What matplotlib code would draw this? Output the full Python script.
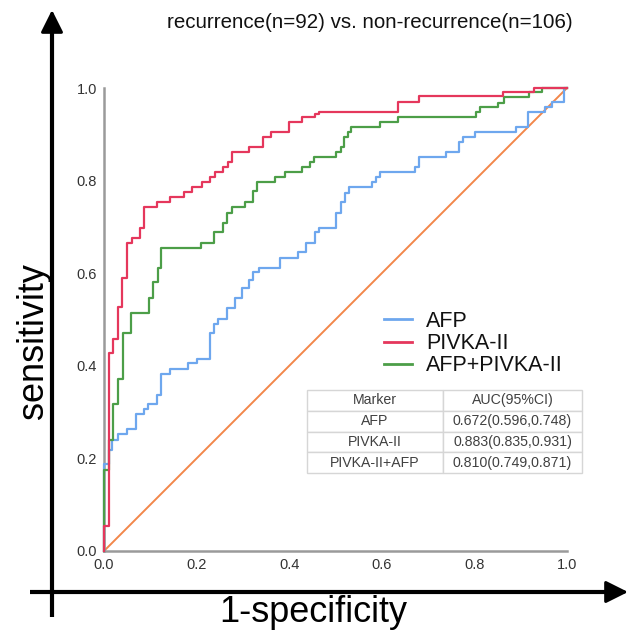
import matplotlib
matplotlib.use("Agg")
import matplotlib.pyplot as plt
from matplotlib.lines import Line2D

plt.rcParams['font.family'] = ['Liberation Sans', 'DejaVu Sans']

# ROC step points (1-specificity, sensitivity)
afp_fpr = [0, 0, 0.011, 0.017, 0.031, 0.049, 0.069, 0.086, 0.096, 0.115, 0.123, 0.143,
           0.181, 0.2, 0.229, 0.238, 0.247, 0.265, 0.284, 0.297, 0.314, 0.322, 0.335,
           0.38, 0.418, 0.436, 0.456, 0.465, 0.502, 0.511, 0.521, 0.53, 0.578, 0.587,
           0.596, 0.672, 0.681, 0.72, 0.739, 0.767, 0.776, 0.801, 0.89, 0.916, 0.952,
           0.967, 0.993, 1.0]
afp_tpr = [0, 0.188, 0.218, 0.24, 0.252, 0.263, 0.295, 0.307, 0.318, 0.338, 0.382, 0.393,
           0.405, 0.415, 0.47, 0.49, 0.501, 0.524, 0.546, 0.567, 0.585, 0.603, 0.611,
           0.632, 0.645, 0.666, 0.688, 0.698, 0.729, 0.754, 0.774, 0.786, 0.798, 0.807,
           0.818, 0.829, 0.85, 0.85, 0.862, 0.884, 0.895, 0.906, 0.916, 0.949, 0.958,
           0.97, 1.0, 1.0]

pivka_fpr = [0, 0, 0.011, 0.02, 0.031, 0.039, 0.049, 0.06, 0.078, 0.087, 0.115, 0.143,
             0.173, 0.19, 0.211, 0.229, 0.24, 0.258, 0.267, 0.276, 0.314, 0.343, 0.361,
             0.399, 0.427, 0.456, 0.465, 0.634, 0.681, 0.861, 0.929, 1.0]
pivka_tpr = [0, 0.055, 0.428, 0.458, 0.527, 0.589, 0.666, 0.677, 0.698, 0.744, 0.753, 0.764,
             0.775, 0.786, 0.796, 0.807, 0.818, 0.829, 0.84, 0.861, 0.872, 0.895, 0.906,
             0.927, 0.938, 0.944, 0.949, 0.97, 0.983, 0.992, 1.0, 1.0]

combo_fpr = [0, 0, 0.011, 0.02, 0.031, 0.04, 0.058, 0.097, 0.105, 0.116, 0.124, 0.21,
             0.238, 0.258, 0.266, 0.276, 0.305, 0.322, 0.331, 0.369, 0.391, 0.427, 0.446,
             0.454, 0.502, 0.511, 0.519, 0.526, 0.533, 0.596, 0.636, 0.803, 0.812, 0.852,
             0.863, 0.918, 0.947, 1.0]
combo_tpr = [0, 0.175, 0.24, 0.317, 0.371, 0.47, 0.513, 0.546, 0.58, 0.611, 0.655, 0.666,
             0.688, 0.709, 0.731, 0.742, 0.753, 0.777, 0.798, 0.808, 0.819, 0.829, 0.841,
             0.85, 0.862, 0.873, 0.895, 0.904, 0.915, 0.927, 0.938, 0.948, 0.958, 0.968,
             0.981, 0.991, 1.0, 1.0]

legend_labels = ['AFP', 'PIVKA-II', 'AFP+PIVKA-II']
table_header = ['Marker', 'AUC(95%CI)']
table_markers = ['AFP', 'PIVKA-II', 'PIVKA-II+AFP']
table_auc = ['0.672(0.596,0.748)', '0.883(0.835,0.931)', '0.810(0.749,0.871)']
ticks = [0.0, 0.2, 0.4, 0.6, 0.8, 1.0]

c_blue = '#6ea7ee'
c_red = '#e5375c'
c_green = '#4c9e48'
c_orange = '#f2874a'

W, H = 629, 631
fig = plt.figure(figsize=(W / 100, H / 100), dpi=100, facecolor='white')

# inner ROC axes
ax = fig.add_axes([104 / W, (H - 551) / H, 463 / W, 463 / H])
ax.set_xlim(0, 1)
ax.set_ylim(0, 1)

ax.plot([0, 1], [0, 1], color=c_orange, lw=1.4, clip_on=False, zorder=2)
ax.plot(afp_fpr, afp_tpr, drawstyle='steps-post', color=c_blue, lw=1.6, clip_on=False, zorder=3)
ax.plot(combo_fpr, combo_tpr, drawstyle='steps-post', color=c_green, lw=1.6, clip_on=False, zorder=4)
ax.plot(pivka_fpr, pivka_tpr, drawstyle='steps-post', color=c_red, lw=1.6, clip_on=False, zorder=5)

for side in ['top', 'right']:
    ax.spines[side].set_visible(False)
for side in ['left', 'bottom']:
    ax.spines[side].set_color('#9a9a9a')
    ax.spines[side].set_linewidth(1.8)
ax.set_xticks(ticks)
ax.set_yticks(ticks)
ax.set_xticklabels([f'{t:.1f}' for t in ticks])
ax.set_yticklabels([f'{t:.1f}' for t in ticks])
ax.tick_params(length=0, labelsize=10.5, labelcolor='#333333', pad=5)

# legend
handles = [Line2D([], [], color=c, lw=2) for c in (c_blue, c_red, c_green)]
leg = fig.legend(handles, legend_labels, loc='upper left',
                 bbox_to_anchor=(384 / W, 1 - 311 / H), frameon=False,
                 fontsize=15.5, handlelength=1.3, handletextpad=0.65,
                 labelspacing=0.05, borderpad=0, borderaxespad=0)
for t in leg.get_texts():
    t.set_color('#111111')

# AUC table
cells = [[m, a] for m, a in zip(table_markers, table_auc)]
tab = ax.table(cellText=cells, colLabels=table_header, cellLoc='center',
               colWidths=[0.4945, 0.5055],
               bbox=[(307 - 104) / 463, (551 - 473) / 463, 275 / 463, 83 / 463])
tab.auto_set_font_size(False)
tab.set_fontsize(10.2)
for cell in tab.get_celld().values():
    cell.set_edgecolor('#d6d6d6')
    cell.set_linewidth(1)
    cell.get_text().set_color('#404040')
    cell.set_clip_on(False)

# overlay for big arrows and titles (pixel coordinates)
ov = fig.add_axes([0, 0, 1, 1], facecolor='none')
ov.set_xlim(0, W)
ov.set_ylim(H, 0)
ov.axis('off')
ov.plot([52, 52], [617, 30], color='black', lw=3, solid_capstyle='butt')
ov.plot([30, 610], [592, 592], color='black', lw=3, solid_capstyle='butt')
ov.annotate('', xy=(52, 10), xytext=(52, 40),
            arrowprops=dict(arrowstyle='-|>', color='black', lw=2.2,
                            mutation_scale=34, shrinkA=0, shrinkB=0))
ov.annotate('', xy=(628, 592), xytext=(598, 592),
            arrowprops=dict(arrowstyle='-|>', color='black', lw=2.2,
                            mutation_scale=34, shrinkA=0, shrinkB=0))

ov.text(370, 22, 'recurrence(n=92) vs. non-recurrence(n=106)', ha='center', va='center',
        fontsize=14.8, color='#111111')
ov.text(33, 341, 'sensitivity', rotation=90, ha='center', va='center', fontsize=26)
ov.text(313, 612, '1-specificity', ha='center', va='center', fontsize=26)

fig.savefig('out.png', dpi=100, facecolor='white')
